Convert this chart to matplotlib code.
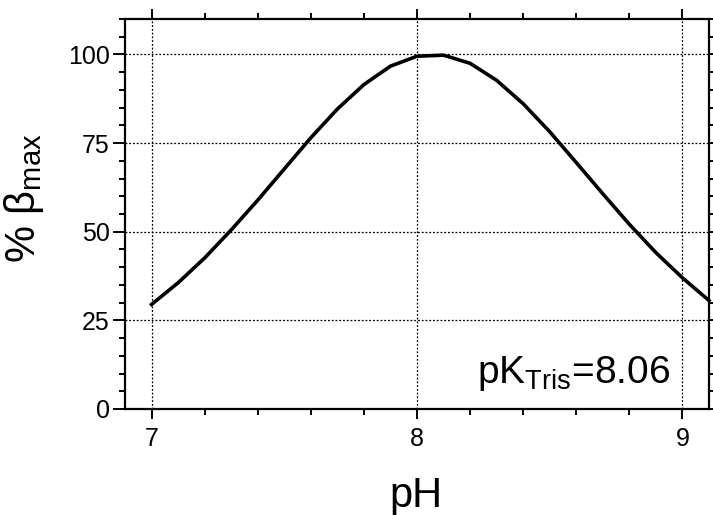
import matplotlib
matplotlib.use("Agg")
import matplotlib.pyplot as plt
from matplotlib.ticker import MultipleLocator

plt.rcParams['font.family'] = ['Liberation Sans', 'DejaVu Sans']
plt.rcParams['mathtext.fontset'] = 'custom'
plt.rcParams['mathtext.rm'] = 'Liberation Sans'
plt.rcParams['mathtext.it'] = 'Liberation Sans:italic'

ph = [7.0, 7.1, 7.2, 7.3, 7.4, 7.5, 7.6, 7.7, 7.8, 7.9, 8.0,
      8.1, 8.2, 8.3, 8.4, 8.5, 8.6, 8.7, 8.8, 8.9, 9.0, 9.1]
beta_pct = [29.5, 35.6, 42.6, 50.5, 58.9, 67.7, 76.5, 84.6, 91.5, 96.7, 99.5,
            99.8, 97.5, 92.7, 86.1, 78.2, 69.5, 60.7, 52.1, 44.1, 37.0, 30.6]
x_ticks = [7, 8, 9]
y_ticks = [0, 25, 50, 75, 100]

W, H = 713, 515
fig = plt.figure(figsize=(W/100, H/100), dpi=100)
ax = fig.add_axes([125/W, 1-409/H, (709-125)/W, (409-19)/H])

ax.plot(ph, beta_pct, color='black', lw=2.6, solid_joinstyle='miter', clip_on=False, zorder=3)

ax.set_xlim(6.9, 9.1)
ax.set_ylim(0, 110)
ax.set_xticks(x_ticks)
ax.set_yticks(y_ticks)
ax.xaxis.set_minor_locator(MultipleLocator(0.2))
ax.yaxis.set_minor_locator(MultipleLocator(5))

ax.grid(True, which='major', color='black', linestyle=(0, (1.5, 1.5)), linewidth=0.9)
ax.tick_params(which='both', direction='out', top=True, right=True, width=1.4, colors='black')
ax.tick_params(which='major', labelsize=18)
ax.tick_params(axis='x', which='major', length=7, pad=6)
ax.tick_params(axis='y', which='major', length=9, pad=2)
ax.tick_params(which='minor', length=4.5)
for s in ax.spines.values():
    s.set_linewidth(1.6)

fig.text(416/W, 1-507/H, 'pH', fontsize=30, ha='center', va='baseline')
fig.text(24/W, 1-198/H, '% β$_{\\mathrm{max}}$', fontsize=30, rotation=90,
         ha='center', va='center')

ax.text(8.955, 7.3, 'pK$_{\\mathrm{Tris}}$=8.06', fontsize=28, ha='right', va='baseline')

fig.savefig('out.png', dpi=100)
